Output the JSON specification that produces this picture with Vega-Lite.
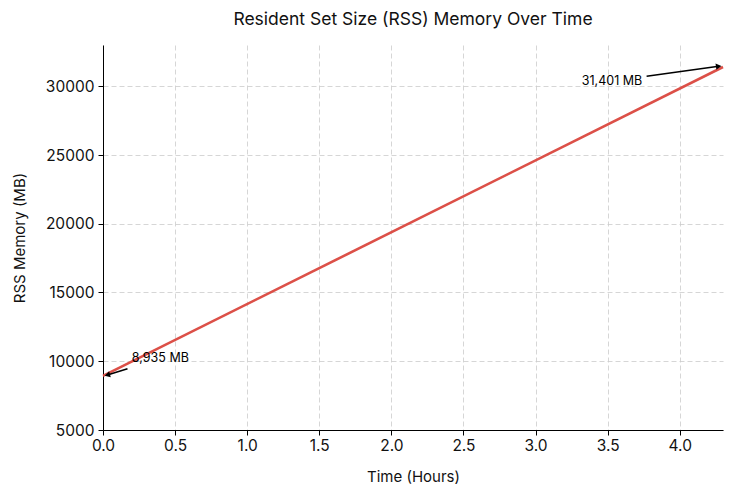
{
  "$schema": "https://vega.github.io/schema/vega-lite/v6.json",
  "width": 620,
  "height": 385,
  "autosize": {"type": "none"},
  "padding": {"left": 103, "top": 45, "right": 10, "bottom": 66},
  "background": "white",
  "config": {
    "font": "Inter",
    "view": {"stroke": null},
    "axis": {
      "labelFont": "Inter",
      "titleFont": "Inter",
      "labelFontSize": 15.5,
      "titleFontSize": 15,
      "titleFontWeight": "normal",
      "labelColor": "#111",
      "titleColor": "#111",
      "domainColor": "#000",
      "tickColor": "#000",
      "tickSize": 5,
      "labelFlush": false,
      "gridColor": "#cccccc",
      "gridDash": [5, 3],
      "gridWidth": 0.8
    }
  },
  "title": {
    "text": "Resident Set Size (RSS) Memory Over Time",
    "font": "Inter",
    "fontSize": 17.5,
    "fontWeight": "normal",
    "color": "#111",
    "offset": 17
  },
  "datasets": {
    "rss": [
      {"hours": 0.0, "rss": 8935},
      {"hours": 4.3, "rss": 31401}
    ],
    "notes": [
      {"label": "8,935 MB", "x": 0.2, "y": 10230, "align": "left"},
      {"label": "31,401 MB", "x": 3.74, "y": 30350, "align": "right"}
    ],
    "arrows": [
      {"id": "start", "x": 0.17, "y": 9450, "x2": 0.03, "y2": 9000},
      {"id": "end", "x": 3.77, "y": 30730, "x2": 4.27, "y2": 31450}
    ]
  },
  "layer": [
    {
      "data": {"name": "rss"},
      "mark": {"type": "line", "color": "#dc5048", "strokeWidth": 2.6},
      "encoding": {
        "x": {
          "field": "hours",
          "type": "quantitative",
          "title": "Time (Hours)",
          "scale": {"domain": [0, 4.3], "nice": false},
          "axis": {"values": [0, 0.5, 1, 1.5, 2, 2.5, 3, 3.5, 4], "format": ".1f", "titlePadding": 16, "labelPadding": 3}
        },
        "y": {
          "field": "rss",
          "type": "quantitative",
          "title": "RSS Memory (MB)",
          "scale": {"domain": [5000, 33000], "nice": false, "zero": false},
          "axis": {"values": [5000, 10000, 15000, 20000, 25000, 30000], "format": "d", "titlePadding": 18, "labelPadding": 4}
        }
      }
    },
    {
      "data": {"name": "arrows"},
      "mark": {"type": "rule", "color": "#000", "strokeWidth": 1.6},
      "encoding": {
        "x": {"field": "x", "type": "quantitative"},
        "y": {"field": "y", "type": "quantitative"},
        "x2": {"field": "x2"},
        "y2": {"field": "y2"}
      }
    },
    {
      "data": {"name": "arrows"},
      "transform": [{"filter": "datum.id == 'start'"}],
      "mark": {"type": "point", "shape": "triangle-up", "filled": true, "color": "#000", "size": 40, "angle": 255, "opacity": 1},
      "encoding": {
        "x": {"field": "x2", "type": "quantitative"},
        "y": {"field": "y2", "type": "quantitative"}
      }
    },
    {
      "data": {"name": "arrows"},
      "transform": [{"filter": "datum.id == 'end'"}],
      "mark": {"type": "point", "shape": "triangle-up", "filled": true, "color": "#000", "size": 40, "angle": 82, "opacity": 1},
      "encoding": {
        "x": {"field": "x2", "type": "quantitative"},
        "y": {"field": "y2", "type": "quantitative"}
      }
    },
    {
      "data": {"name": "notes"},
      "transform": [{"filter": "datum.align == 'left'"}],
      "mark": {"type": "text", "align": "left", "baseline": "middle", "fontSize": 12.5, "font": "Inter", "color": "#000"},
      "encoding": {
        "x": {"field": "x", "type": "quantitative"},
        "y": {"field": "y", "type": "quantitative"},
        "text": {"field": "label"}
      }
    },
    {
      "data": {"name": "notes"},
      "transform": [{"filter": "datum.align == 'right'"}],
      "mark": {"type": "text", "align": "right", "baseline": "middle", "fontSize": 12.5, "font": "Inter", "color": "#000"},
      "encoding": {
        "x": {"field": "x", "type": "quantitative"},
        "y": {"field": "y", "type": "quantitative"},
        "text": {"field": "label"}
      }
    }
  ]
}
